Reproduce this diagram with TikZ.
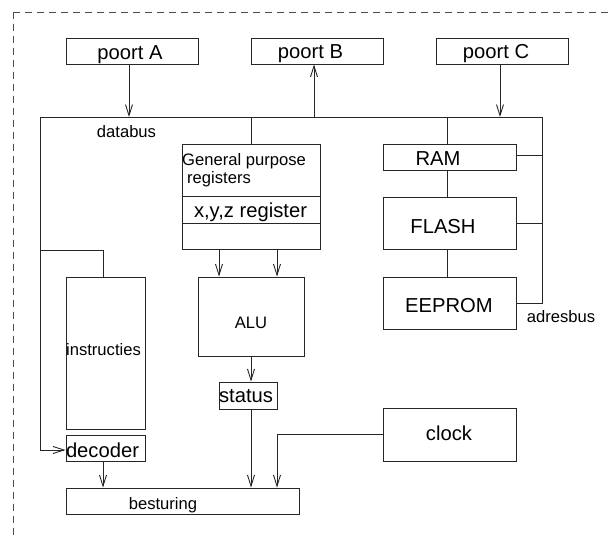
\documentclass[tikz,border=0pt]{standalone}
\usepackage{fontspec}
\setmainfont{Liberation Sans}
\usetikzlibrary{arrows.meta}
\begin{document}
\begin{tikzpicture}[x=1pt,y=-1pt,
  ln/.style={draw=black!85, line width=0.9pt},
  arr/.style={ln, -{Straight Barb[length=11pt,width=7pt,line width=0.9pt]}},
  box/.style={ln, rectangle, inner sep=0pt},
  big/.style={inner sep=0pt, anchor=base, font=\fontsize{20.2pt}{24pt}\selectfont},
  small/.style={inner sep=0pt, anchor=base, font=\fontsize{16.6pt}{20pt}\selectfont},
  border/.style={draw=black!70, line width=0.8pt, dash pattern=on 7pt off 5pt}]
\useasboundingbox (0,0) rectangle (611,537);
% dashed frame
\draw[border] (13,12) -- (615,12);
\draw[border] (13,12) -- (13,541);

% boxes
\node[box, minimum width=132pt, minimum height=26pt] (pa) at (132,51) {};
\node[box, minimum width=132pt, minimum height=26pt] (pb) at (317,51) {};
\node[box, minimum width=132pt, minimum height=26pt] (pc) at (502,51) {};
\node[box, minimum width=138pt, minimum height=105pt] (gp) at (251,196.5) {};
\node[box, minimum width=133pt, minimum height=26pt] (ram) at (449.5,157) {};
\node[box, minimum width=133pt, minimum height=52pt] (flash) at (449.5,223) {};
\node[box, minimum width=133pt, minimum height=52pt] (eeprom) at (449.5,303) {};
\node[box, minimum width=79pt, minimum height=152pt] (instr) at (105.5,353) {};
\node[box, minimum width=79pt, minimum height=26pt] (dec) at (105.5,448) {};
\node[box, minimum width=106pt, minimum height=79pt] (alu) at (251,316.5) {};
\node[box, minimum width=58pt, minimum height=27pt] (status) at (248,395.5) {};
\node[box, minimum width=233pt, minimum height=26pt] (best) at (182.5,501) {};
\node[box, minimum width=133pt, minimum height=53pt] (clock) at (449.5,434.5) {};

% dividers in the register block
\coordinate (d1) at (0,196);
\coordinate (d2) at (0,223);
\draw[ln] (gp.west |- d1) -- (gp.east |- d1);
\draw[ln] (gp.west |- d2) -- (gp.east |- d2);

% texts
\node[big] (tpa) at (130,60) {poort A};
\node[big] (tpb) at (310.5,59) {poort B};
\node[big] (tpc) at (496,59) {poort C};
\node[small] (tdb) at (126.5,138) {databus};
\node[small, anchor=base west] (tgp1) at (182,166) {General purpose};
\node[small, anchor=base west] (tgp2) at (187,184) {registers};
\node[big] (txyz) at (250.5,218) {x,y,z register};
\node[big] (tram) at (438,166) {RAM};
\node[big] (tfl) at (443,234) {FLASH};
\node[big] (tee) at (449,313) {EEPROM};
\node[small] (tab) at (561,323) {adresbus};
\node[small] (talu) at (251,329) {ALU};
\node[small] (tin) at (103.5,356) {instructies};
\node[big] (tst) at (246,403) {status};
\node[big] (tdec) at (102.5,457) {decoder};
\node[small] (tbe) at (163,509) {besturing};
\node[big] (tcl) at (449,441) {clock};

% buses
\coordinate (dbl) at (40,117);
\coordinate (dbr) at (542,117);
\coordinate (jn) at (40,250);
\draw[ln] (dbl) -- (dbr) |- (eeprom.east);
\draw[ln] ([yshift=2pt]ram.east) -- ([yshift=2pt]ram.east -| dbr);
\draw[ln] (flash.east) -- (flash.east -| dbr);
\draw[arr] (dbl) |- ([yshift=-2pt]dec.west);
\draw[ln] (jn) -| ([xshift=-2.5pt]instr.north);

% ports
\draw[arr] ([xshift=-3pt]pa.south) -- ([xshift=-3pt]pa.south |- dbl);
\draw[arr] ([xshift=-3pt]pb.south |- dbl) -- ([xshift=-3pt]pb.south);
\draw[arr] ([xshift=-2pt]pc.south) -- ([xshift=-2pt]pc.south |- dbl);

% registers and memory
\draw[ln] (gp.north |- dbl) -- (gp.north);
\draw[ln] ([xshift=-2.5pt]ram.north |- dbl) -- ([xshift=-2.5pt]ram.north);
\draw[ln] ([xshift=-2.5pt]ram.south) -- ([xshift=-2.5pt]flash.north);
\draw[ln] ([xshift=-2.5pt]flash.south) -- ([xshift=-2.5pt]eeprom.north);

% datapath
\draw[arr] ([xshift=-32pt]gp.south) -- ([xshift=-32pt]gp.south |- alu.north);
\draw[arr] ([xshift=26pt]gp.south) -- ([xshift=26pt]gp.south |- alu.north);
\draw[arr] (alu.south) -- (alu.south |- status.north);
\draw[arr] (alu.south |- status.south) -- (alu.south |- best.north);
\draw[arr] ([xshift=-2.5pt]dec.south) -- ([xshift=-2.5pt]dec.south |- best.north);
\draw[arr] (clock.west) -| ([xshift=94.5pt]best.north);
\end{tikzpicture}
\end{document}
